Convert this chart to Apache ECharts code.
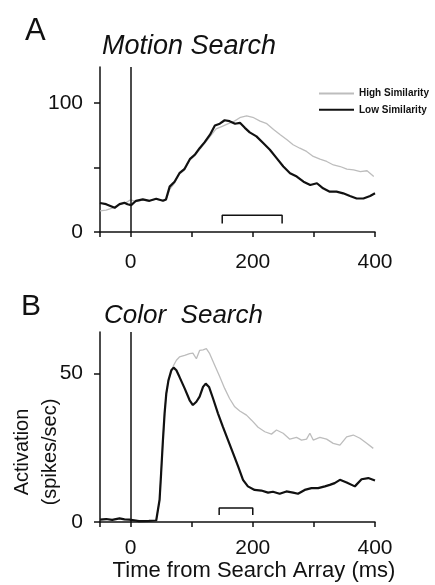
<!DOCTYPE html>
<html>
<head>
<meta charset="utf-8">
<style>
  html, body { margin: 0; padding: 0; background: #fff; }
  #main { width: 435px; height: 585px; }
</style>
<script src="https://cdn.jsdelivr.net/npm/echarts@6/dist/echarts.min.js"></script>
</head>
<body>
<div id="main"></div>
<script>
// 图表数据
// A: Motion Search
var motionLowT = [-50, -40, -26, -18, -10, -5, 1, 9, 20, 31, 42, 53, 58, 64, 72, 80, 88, 97, 105, 113, 121, 130, 138, 146, 154, 162, 171, 179, 187, 195, 206, 217, 228, 239, 250, 261, 272, 283, 294, 305, 315, 326, 337, 348, 359, 370, 381, 392, 400];
var motionLowV = [22.5, 21.6, 18.8, 21.6, 22.7, 21.5, 20.8, 24.2, 25.3, 24.2, 25.8, 24.2, 25.3, 35.2, 39, 45.6, 48.7, 56.5, 59.9, 65, 69.5, 75.5, 82.6, 84, 86.7, 86, 84, 84.7, 80.8, 77.3, 74.2, 69, 63.8, 57.3, 50.8, 45.6, 43, 39, 36.5, 37.8, 33.9, 31.3, 31.3, 30, 27.9, 26, 26, 27.9, 30];
var motionHighT = [-50, -40, -30, -20, -10, 0, 10, 20, 30, 40, 50, 58, 64, 72, 80, 88, 97, 105, 113, 121, 130, 140, 150, 160, 170, 180, 190, 200, 212, 223, 234, 245, 256, 266, 277, 288, 299, 310, 321, 332, 343, 354, 365, 376, 387, 398];
var motionHighV = [16.4, 17, 18.5, 21, 22, 25, 23.5, 25, 24, 25.5, 24.5, 25, 33, 38, 45, 48, 56, 59, 64, 68.5, 74, 80, 82, 84, 86, 89, 90, 89, 86, 84, 79.5, 75.5, 71.6, 67.7, 65, 62.5, 58.6, 56.5, 54.7, 52, 50.8, 48.7, 48.2, 46.9, 47.5, 43];
var motionBracket = [[150, 6.5], [150, 13], [248, 13], [248, 6.5]];

// B: Color Search
var colorLowT = [-50, -40, -30, -18, -10, -2, 14, 30, 42, 47.5, 50, 53, 55.7, 58.5, 62, 66.7, 70.5, 75, 80, 88.5, 96.7, 102, 107.7, 113, 118.6, 123, 128.4, 135, 143, 151, 159.5, 167.7, 176, 184, 192, 203, 214, 225, 233, 244, 255, 266, 274, 285, 296, 307, 318, 326, 334, 342.6, 353.6, 367, 378, 389, 400];
var colorLowV = [0.8, 1.0, 0.7, 1.2, 0.9, 0.8, 0.3, 0.4, 0.5, 7.5, 16.4, 27.6, 36.6, 43.3, 47.7, 51.1, 52, 51.1, 48.9, 45, 41, 39.4, 40.5, 42.2, 45.5, 46.6, 45.5, 41.6, 36.6, 32.1, 27.6, 23.2, 18.7, 14.2, 12, 10.8, 10.6, 9.9, 10.2, 9.5, 10.3, 9.9, 9.5, 10.8, 11.4, 11.4, 12, 12.5, 13.1, 14.2, 13.3, 12, 14.4, 14.8, 14];
var colorHighT = [-50, -40, -30, -18, -10, -2, 14, 30, 42, 47.5, 50, 53, 55.7, 58.5, 62, 66.7, 70.5, 75, 80, 88.5, 96.7, 102, 107.7, 113, 118.6, 124, 129.5, 137.7, 146, 154, 162, 170.5, 178.7, 189.7, 198, 208.7, 219.7, 230.6, 238.8, 249.7, 260.6, 271.6, 279.8, 288, 293.4, 298.9, 309.8, 320.8, 331.6, 342.6, 353.6, 364.4, 375.4, 386.4, 397.2];
var colorHighV = [0.8, 1.0, 0.7, 1.2, 0.9, 0.8, 0.3, 0.4, 0.5, 7.5, 16.4, 27.6, 36.6, 43.3, 47.7, 50.5, 52.8, 54.5, 55.6, 56.1, 56.7, 56.9, 55, 57.8, 58, 58.4, 56.7, 52.8, 48.9, 45, 41.6, 38.8, 37.4, 36, 34.3, 31.9, 30.4, 29.6, 31, 29.9, 27.9, 28.5, 27.6, 27.9, 29.9, 27.6, 28.5, 27.9, 26.5, 25.9, 28.7, 29.3, 28.2, 26.5, 24.8];
var colorBracket = [[145, 2.4], [145, 4.7], [200, 4.7], [200, 2.4]];

// 刻度
var xTicks = [-50, 0, 100, 200, 300, 400];
var xLabels = [0, 200, 400];
var motionYTicks = [0, 50, 100];
var motionYLabels = [0, 100];
var colorYTicks = [0, 50];
var colorYLabels = [0, 50];

function pairs(t, v) {
    var out = [];
    for (var i = 0; i < t.length; i++) {
        out.push([t[i], v[i]]);
    }
    return out;
}

var FONT = 'Liberation Sans, Arial, sans-serif';

function xAxisOf(grid, margin, extra) {
    var ax = {
        type: 'value',
        gridIndex: grid,
        min: -50,
        max: 400,
        splitLine: { show: false },
        axisLine: { onZero: false, lineStyle: { color: '#111', width: 1.5 } },
        axisTick: { length: 5, lineStyle: { color: '#111', width: 1.5 }, customValues: xTicks },
        axisLabel: { color: '#111', fontSize: 21, fontFamily: FONT, margin: margin, customValues: xLabels }
    };
    for (var k in extra) ax[k] = extra[k];
    return ax;
}

function yAxisOf(grid, max, ticks, labels, extra) {
    var ax = {
        type: 'value',
        gridIndex: grid,
        min: 0,
        max: max,
        splitLine: { show: false },
        axisLine: { show: true, onZero: false, lineStyle: { color: '#111', width: 1.5 } },
        axisTick: { show: true, length: 6, lineStyle: { color: '#111', width: 1.5 }, customValues: ticks },
        axisLabel: { color: '#111', fontSize: 21, fontFamily: FONT, margin: 17, customValues: labels }
    };
    for (var k in extra) ax[k] = extra[k];
    return ax;
}

var zeroLine = {
    silent: true,
    symbol: ['none', 'none'],
    label: { show: false },
    lineStyle: { color: '#111', width: 1.5, type: 'solid' },
    data: [{ xAxis: 0 }]
};

var myChart = echarts.init(document.getElementById('main'));

var option = {
    animation: false,
    backgroundColor: '#fff',
    title: [
        { text: 'A', left: 20, top: 11, textStyle: { fontSize: 31, fontWeight: 'normal', color: '#111', fontFamily: FONT } },
        { text: 'Motion Search', left: 97, top: 28, textStyle: { fontSize: 27, fontStyle: 'italic', fontWeight: 'normal', color: '#111', fontFamily: FONT } },
        { text: 'B', left: 16, top: 287, textStyle: { fontSize: 30, fontWeight: 'normal', color: '#111', fontFamily: FONT } },
        { text: 'Color  Search', left: 99, top: 298, textStyle: { fontSize: 26, fontStyle: 'italic', fontWeight: 'normal', color: '#111', fontFamily: FONT } }
    ],
    legend: {
        orient: 'vertical',
        left: 318,
        top: 88,
        padding: 0,
        itemWidth: 35,
        itemHeight: 14,
        itemGap: 5,
        itemStyle: { opacity: 0 },
        textStyle: { fontSize: 10, fontWeight: 'bold', color: '#111', fontFamily: FONT },
        data: ['High Similarity', 'Low Similarity']
    },
    grid: [
        { left: 100, top: 67, width: 275, height: 165, outerBoundsMode: 'none' },
        { left: 100, top: 332, width: 275, height: 190, outerBoundsMode: 'none' }
    ],
    xAxis: [
        xAxisOf(0, 20, {}),
        xAxisOf(1, 16, {
            name: 'Time from Search Array (ms)',
            nameLocation: 'middle',
            nameGap: 34,
            nameTextStyle: { fontSize: 22, color: '#111', fontFamily: FONT, padding: [0, 0, 0, 33] }
        })
    ],
    yAxis: [
        yAxisOf(0, 128, motionYTicks, motionYLabels, {}),
        yAxisOf(1, 64, colorYTicks, colorYLabels, {
            name: 'Activation\n(spikes/sec)',
            nameLocation: 'middle',
            nameGap: 36,
            nameMoveOverlap: false,
            nameTextStyle: { fontSize: 20, lineHeight: 28, color: '#111', fontFamily: FONT, padding: [0, 50, 0, 0] }
        })
    ],
    series: [
        {
            name: 'High Similarity',
            type: 'line',
            xAxisIndex: 0,
            yAxisIndex: 0,
            symbol: 'none',
            lineStyle: { color: '#bdbdbd', width: 1.3 },
            itemStyle: { color: '#bdbdbd' },
            data: pairs(motionHighT, motionHighV),
            z: 2
        },
        {
            name: 'Low Similarity',
            type: 'line',
            xAxisIndex: 0,
            yAxisIndex: 0,
            symbol: 'none',
            lineStyle: { color: '#111', width: 2.2 },
            itemStyle: { color: '#111' },
            data: pairs(motionLowT, motionLowV),
            markLine: zeroLine,
            z: 3
        },
        {
            name: 'bracketA',
            type: 'line',
            xAxisIndex: 0,
            yAxisIndex: 0,
            symbol: 'none',
            lineStyle: { color: '#111', width: 1.5 },
            data: motionBracket
        },
        {
            name: 'High Similarity',
            type: 'line',
            xAxisIndex: 1,
            yAxisIndex: 1,
            symbol: 'none',
            lineStyle: { color: '#bdbdbd', width: 1.3 },
            itemStyle: { color: '#bdbdbd' },
            data: pairs(colorHighT, colorHighV),
            z: 2
        },
        {
            name: 'Low Similarity',
            type: 'line',
            xAxisIndex: 1,
            yAxisIndex: 1,
            symbol: 'none',
            lineStyle: { color: '#111', width: 2.2 },
            itemStyle: { color: '#111' },
            data: pairs(colorLowT, colorLowV),
            markLine: zeroLine,
            z: 3
        },
        {
            name: 'bracketB',
            type: 'line',
            xAxisIndex: 1,
            yAxisIndex: 1,
            symbol: 'none',
            lineStyle: { color: '#111', width: 1.5 },
            data: colorBracket
        }
    ]
};

myChart.setOption(option);
</script>
</body>
</html>
